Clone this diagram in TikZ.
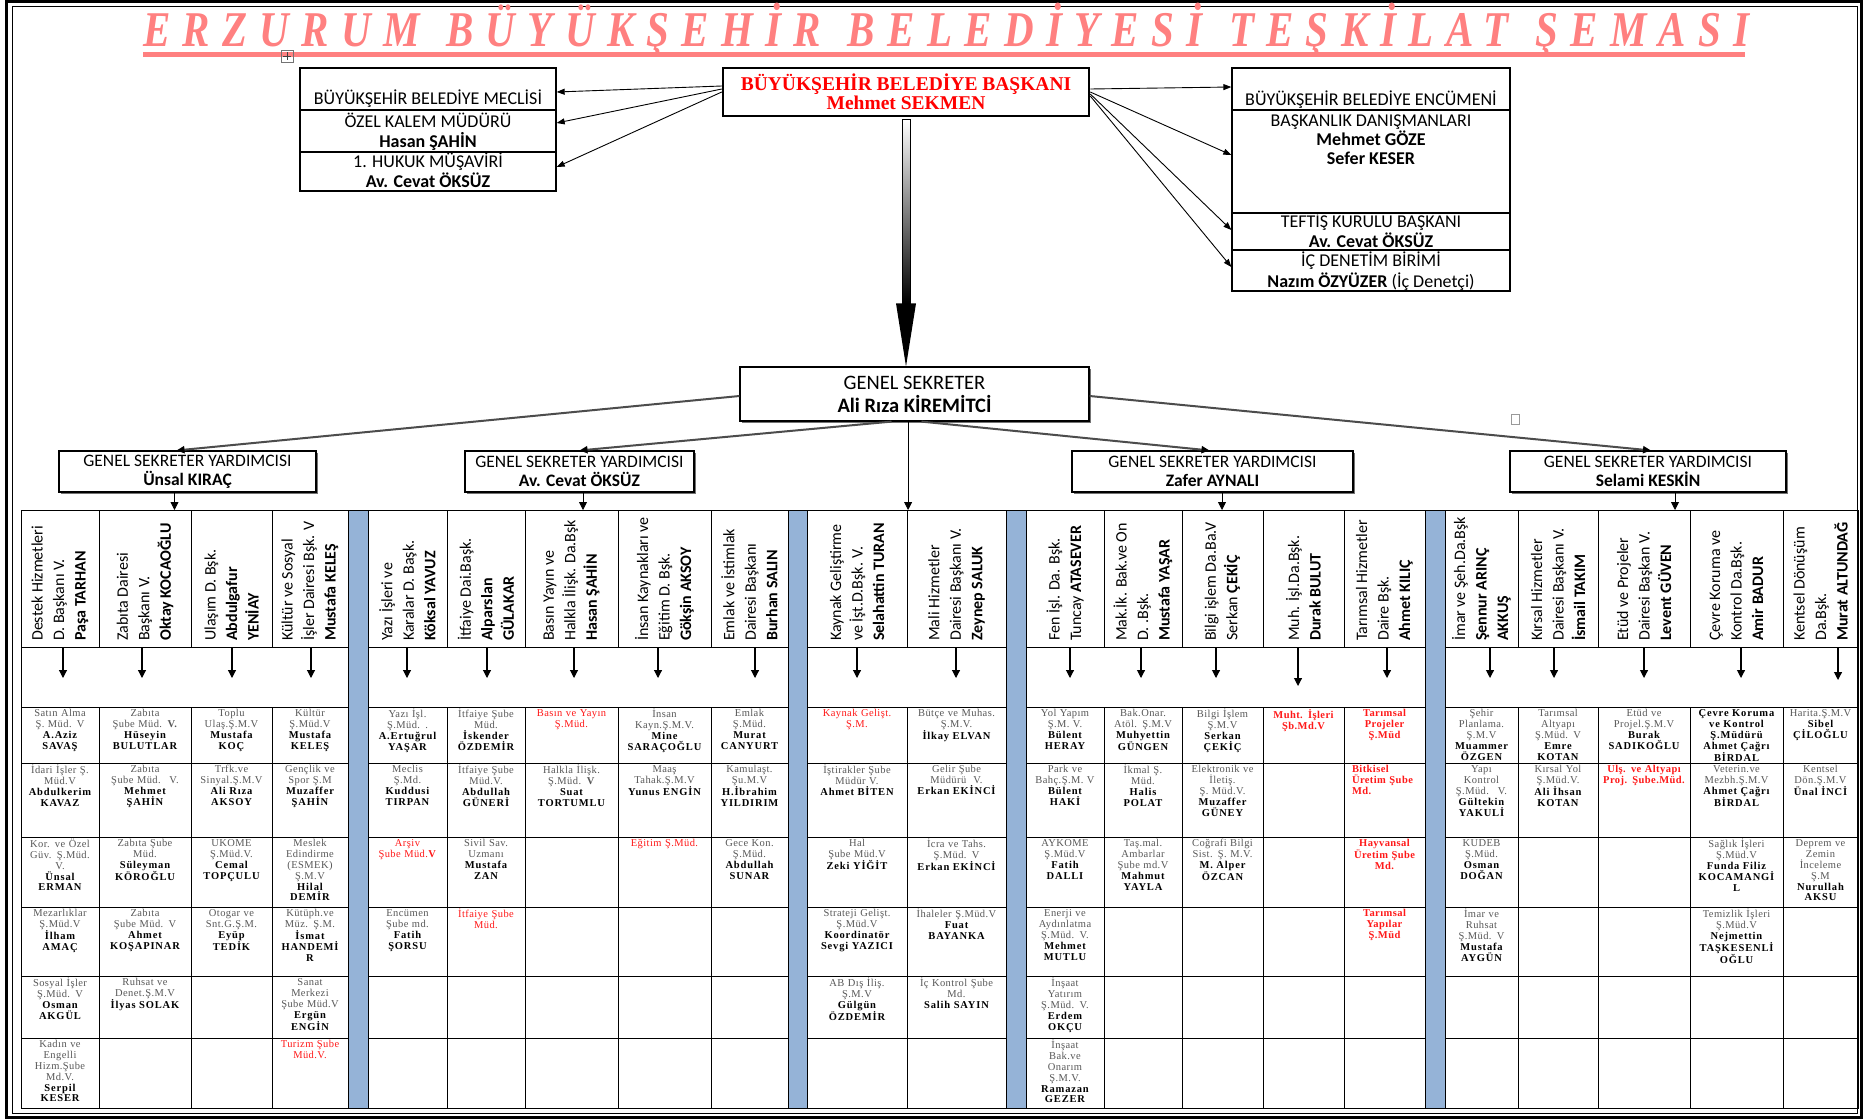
\documentclass[tikz,border=0pt]{standalone}
\usepackage{fontspec}
\usepackage{graphicx}
\setmainfont{Carlito}
\newfontfamily\sansf{Carlito}
\newfontfamily\cellf[LetterSpace=4]{Liberation Serif}
\newfontfamily\namef[LetterSpace=8]{Liberation Serif}
\newfontfamily\presf{Liberation Serif}
\newfontfamily\titlef[LetterSpace=30]{Liberation Serif}
\usetikzlibrary{arrows.meta,calc,shadows}
\definecolor{tpink}{RGB}{255,128,128}
\definecolor{barblue}{RGB}{149,179,215}
\definecolor{tgrey}{RGB}{88,88,88}
\definecolor{tred}{RGB}{255,25,25}
\newcommand\grT{\cellf\mdseries\color{tgrey}}
\newcommand\bkN{\namef\bfseries\color{black}}
\newcommand\rdT{\cellf\mdseries\color{tred}}
\newcommand\wgap{\hspace{0.65em}}
\foreach \i/\l/\r/\a/\b in {1/21/99/63/678,2/99/191/142/678,3/191/272/232/678,4/272/348/311/678,5/368/447/407/678,6/447/525/487/678,7/525/618/574/678,8/618/711/658/678,9/711/788/755/678,10/807/907/857/678,11/907/1006/956/678,12/1026/1104/1070/678,13/1104/1182/1141/678,14/1182/1263/1216/678,15/1263/1344/1298/686,16/1344/1425/1387/678,17/1445/1518/1490/678,18/1518/1598/1554/678,19/1598/1690/1644/678,20/1690/1783/1741/678,21/1783/1858/1838/680}{%
  \expandafter\xdef\csname cL\i\endcsname{\l}%
  \expandafter\xdef\csname cR\i\endcsname{\r}%
  \expandafter\xdef\csname cA\i\endcsname{\a}%
  \expandafter\xdef\csname cY\i\endcsname{\b}}
\foreach \j/\t/\b in {1/707/763,2/763/837,3/837/907,4/907/976,5/976/1038,6/1038/1108}{%
  \expandafter\xdef\csname rT\j\endcsname{\t}%
  \expandafter\xdef\csname rB\j\endcsname{\b}}
\newcommand\dtxt[4][]{%
  \edef\xL{\csname cL#2\endcsname}\edef\xR{\csname cR#2\endcsname}\edef\yT{\csname rT#3\endcsname}%
  \pgfmathsetmacro\ccx{(\xL+\xR)/2}%
  \pgfmathsetmacro\ccw{\xR-\xL-4}%
  \pgfmathsetmacro\ccy{\yT+2}%
  \node[celltxt,text width=\ccw pt,#1] (t#2-#3) at (\ccx,\ccy) {\rule{0pt}{7.6pt}#4};}
\newcommand\htxt[2]{%
  \edef\xL{\csname cL#1\endcsname}\edef\xR{\csname cR#1\endcsname}%
  \pgfmathsetmacro\ccx{(\xL+\xR)/2}%
  \node[hdrtxt] (ht#1) at (\ccx,641) {#2};}
\begin{document}
\begin{tikzpicture}[x=1pt,y=-1pt,
  arr/.style={-{Triangle[width=8pt,length=8pt]},line width=1.1pt},
  parr/.style={-{Triangle[width=6pt,length=8pt]},line width=0.9pt},
  gsarr/.style={-{Triangle[width=7pt,length=8pt,color=black]},line width=2pt,draw=black!70},
  grid/.style={draw=black,line width=1.1pt,inner sep=0pt,anchor=north west},
  celltxt/.style={anchor=north,align=center,inner sep=0pt,font=\fontsize{10.5}{10.8}\selectfont},
  hdrtxt/.style={rotate=90,anchor=west,align=left,inner sep=0pt,font=\sansf\fontsize{16}{21.5}\selectfont},
  rowbox/.style={draw=black,line width=1.3pt,inner sep=0pt},
  boxtxt/.style={anchor=base,inner sep=0pt,font=\sansf\fontsize{18}{20}\selectfont},
  gsybox/.style={draw=black,line width=1.1pt,fill=white,align=center,inner sep=0pt,minimum height=41pt,font=\sansf\fontsize{17.5}{19}\selectfont,drop shadow={shadow xshift=2pt,shadow yshift=-2pt,fill=black!55,opacity=1}}]
\useasboundingbox (0,0) rectangle (1863,1119);
\fill[white] (0,0) rectangle (1863,1119);
% frame
\draw[line width=3pt] (6.5,1.5) rectangle (1861.5,1117.5);
\draw[line width=0.8pt] (12,6) rectangle (1857,1113);
% title
\node[anchor=base west,inner sep=0pt,text=tpink] (title) at (143,46) {\resizebox{1606pt}{33pt}{\raisebox{0pt}[0.66em][0pt]{\titlef\bfseries\itshape ERZURUM\wgap BÜYÜKŞEHİR\wgap BELEDİYESİ\wgap TEŞKİLAT\wgap ŞEMASI}}};
\fill[tpink] (143,52) rectangle (1745,56.5);
% small handle icons
\draw[black!55,line width=0.6pt] (281,50) rectangle (293,62);
\draw[black!75,line width=0.5pt] (287,52) -- (287,60) (283,56) -- (291,56);
\draw[black!40,line width=0.6pt] (1511,414) rectangle (1519,424);
% president
\node[draw=black,line width=2.5pt,minimum width=366pt,minimum height=48pt,inner sep=0pt,align=center,font=\presf\bfseries\fontsize{19.5}{19}\selectfont,text=red] (pres) at (906,92) {BÜYÜKŞEHİR BELEDİYE BAŞKANI\\Mehmet SEKMEN};
% left group
\node[rowbox,minimum width=256pt,minimum height=42pt] (l1) at (428,89) {};
\node[rowbox,minimum width=256pt,minimum height=42pt] (l2) at (428,131) {};
\node[rowbox,minimum width=256pt,minimum height=39pt] (l3) at (428,171.5) {};
\node[boxtxt] (l1a) at (428,104.5) {BÜYÜKŞEHİR BELEDİYE MECLİSİ};
\node[boxtxt] (l2a) at (428,127.5) {ÖZEL KALEM MÜDÜRÜ};
\node[boxtxt] (l2b) at (428,147.5) {\textbf{Hasan ŞAHİN}};
\node[boxtxt] (l3a) at (428,167.5) {1. HUKUK MÜŞAVİRİ};
\node[boxtxt] (l3b) at (428,187.5) {\textbf{Av. Cevat ÖKSÜZ}};
% right group
\node[rowbox,minimum width=278pt,minimum height=42pt] (r1) at (1371,89) {};
\node[rowbox,minimum width=278pt,minimum height=103pt] (r2) at (1371,161.5) {};
\node[rowbox,minimum width=278pt,minimum height=37pt] (r3) at (1371,231.5) {};
\node[rowbox,minimum width=278pt,minimum height=41pt] (r4) at (1371,270.5) {};
\node[boxtxt] (r1a) at (1371,105.5) {BÜYÜKŞEHİR BELEDİYE ENCÜMENİ};
\node[boxtxt] (r2a) at (1371,126.5) {BAŞKANLIK DANIŞMANLARI};
\node[boxtxt] (r2b) at (1371,145.5) {\textbf{Mehmet GÖZE}};
\node[boxtxt] (r2c) at (1371,164.5) {\textbf{Sefer KESER}};
\node[boxtxt] (r3a) at (1371,227.5) {TEFTİŞ KURULU BAŞKANI};
\node[boxtxt] (r3b) at (1371,247.5) {\textbf{Av. Cevat ÖKSÜZ}};
\node[boxtxt] (r4a) at (1371,266.5) {İÇ DENETİM BİRİMİ};
\node[boxtxt] (r4b) at (1371,287.5) {\textbf{Nazım ÖZYÜZER} (İç Denetçi)};
% president arrows
\draw[parr] ($(pres.west)+(0,-6)$) -- ($(l1.east)+(0,3)$);
\draw[parr] ($(pres.west)+(0,-3)$) -- ($(l2.east)+(0,-8)$);
\draw[parr] (pres.west) -- ($(l3.east)+(0,-4.5)$);
\draw[parr] ($(pres.east)+(0,-3)$) -- ($(r1.west)+(0,-2)$);
\draw[parr] (pres.east) -- ($(r2.west)+(0,-6.5)$);
\draw[parr] ($(pres.east)+(0,2)$) -- ($(r3.west)+(0,-1.5)$);
\draw[parr] ($(pres.east)+(0,4)$) -- ($(r4.west)+(0,-3.5)$);
% general secretary
\node[draw=black,line width=1.2pt,fill=white,minimum width=349pt,minimum height=54pt,inner sep=0pt,align=center,font=\sansf\fontsize{20.5}{23}\selectfont,drop shadow={shadow xshift=2pt,shadow yshift=-2pt,fill=black!55,opacity=1}] (gs) at (914.5,394) {GENEL SEKRETER\\\textbf{Ali Rıza KİREMİTCİ}};
% thick arrow president -> GS
\coordinate (ptip) at (pres.south |- gs.north);
\shade[top color=white,bottom color=black,draw=black,line width=0.6pt] ($(pres.south)+(-4,2)$) rectangle ($(ptip)+(4,-63)$);
\fill[black] ($(ptip)+(-10,-63)$) -- ($(ptip)+(10,-63)$) -- (ptip) -- cycle;
% GSY boxes
\node[gsybox,minimum width=257pt] (gsy1) at (187.5,471.5) {GENEL SEKRETER YARDIMCISI\\\textbf{Ünsal KIRAÇ}};
\node[gsybox,minimum width=229pt] (gsy2) at (579.5,471.5) {GENEL SEKRETER YARDIMCISI\\\textbf{Av. Cevat ÖKSÜZ}};
\node[gsybox,minimum width=281pt] (gsy3) at (1212.5,471.5) {GENEL SEKRETER YARDIMCISI\\\textbf{Zafer AYNALI}};
\node[gsybox,minimum width=276pt] (gsy4) at (1648,471.5) {GENEL SEKRETER YARDIMCISI\\\textbf{Selami KESKİN}};
\draw[gsarr] ($(gs.west)+(0,2)$) -- ($(gsy1.north)+(-11,0)$);
\draw[gsarr] ($(gs.south)+(-23,0)$) -- (gsy2.north);
\draw[gsarr] ($(gs.south)+(7,0)$) -- ($(gsy3.north)+(-3,0)$);
\draw[gsarr] ($(gs.east)+(0,2)$) -- ($(gsy4.north)+(3,0)$);
% table
\node[grid,minimum width=1837pt,minimum height=598pt] (tbl) at (21,510) {};
\foreach \i in {1,...,21}{%
  \edef\xL{\csname cL\i\endcsname}\edef\xR{\csname cR\i\endcsname}%
  \pgfmathsetmacro\w{\xR-\xL}%
  \node[grid,minimum width=\w pt,minimum height=137pt] (hc\i) at (\xL,510) {};
  \foreach \j in {1,...,6}{%
    \edef\yT{\csname rT\j\endcsname}\edef\yB{\csname rB\j\endcsname}%
    \pgfmathsetmacro\h{\yB-\yT}%
    \node[grid,minimum width=\w pt,minimum height=\h pt] (d\i-\j) at (\xL,\yT) {};
  }
}
\foreach \l/\r in {348/368,788/807,1006/1026,1425/1445}{%
  \pgfmathsetmacro\w{\r-\l}%
  \node[grid,fill=barblue,minimum width=\w pt,minimum height=598pt] (bb\l) at (\l,510) {};
}
% arrows GS / GSY -> table
\draw[arr,line width=0.8pt] (gs.south -| hc10.north east) -- (hc10.north east);
\coordinate (g1b) at ($(gsy1.south)+(-13,0)$);
\coordinate (g2b) at ($(gsy2.south)+(3.5,0)$);
\coordinate (g3b) at ($(gsy3.south)+(9.5,0)$);
\coordinate (g4b) at ($(gsy4.south)+(27,0)$);
\foreach \g in {g1b,g2b,g3b,g4b}{\draw[arr,line width=0.8pt] (\g) -- (\g |- tbl.north);}
% band arrows
\foreach \i in {1,...,21}{%
  \edef\xA{\csname cA\i\endcsname}\edef\yA{\csname cY\i\endcsname}%
  \coordinate (ax\i) at (\xA,\yA);
  \draw[arr] (hc\i.south -| ax\i) -- (ax\i);
}
% headers
\htxt{1}{Destek Hizmetleri\\D. Başkanı V.\\\textbf{Paşa TARHAN}}
\htxt{2}{Zabıta Dairesi\\Başkanı V.\\\textbf{Oktay KOCAOĞLU}}
\htxt{3}{Ulaşım D. Bşk.\\\textbf{Abdulgafur}\\\textbf{YENİAY}}
\htxt{4}{Kültür ve Sosyal\\İşler Dairesi Bşk. V\\\textbf{Mustafa KELEŞ}}
\htxt{5}{Yazı İşleri ve\\Karalar D. Başk.\\\textbf{Köksal YAVUZ}}
\htxt{6}{İtfaiye Dai.Başk.\\\textbf{Alparslan}\\\textbf{GÜLAKAR}}
\htxt{7}{Basın Yayın ve\\Halkla İlişk. Da.Bşk\\\textbf{Hasan ŞAHİN}}
\htxt{8}{İnsan Kaynakları ve\\Eğitim D. Bşk.\\\textbf{Gökşin AKSOY}}
\htxt{9}{Emlak ve İstimlak\\Dairesi Başkanı\\\textbf{Burhan SALIN}}
\htxt{10}{Kaynak Geliştirme\\ve İşt.D.Bşk. V.\\\textbf{Selahattin TURAN}}
\htxt{11}{Mali Hizmetler\\Dairesi Başkanı V.\\\textbf{Zeynep SALUK}}
\htxt{12}{Fen İşl. Da. Bşk.\\Tuncay \textbf{ATASEVER}}
\htxt{13}{Mak.İk. Bak.ve On\\D. .Bşk.\\\textbf{Mustafa YAŞAR}}
\htxt{14}{Bilgi işlem Da.Ba.V\\Serkan \textbf{ÇEKİÇ}}
\htxt{15}{Muh. İşl.Da.Bşk.\\\textbf{Durak BULUT}}
\htxt{16}{Tarımsal Hizmetler\\Daire Bşk.\\\textbf{Ahmet KILIÇ}}
\htxt{17}{İmar ve Şeh.Da.Bşk\\\textbf{Şennur ARINÇ}\\\textbf{AKKUŞ}}
\htxt{18}{Kırsal Hizmetler\\Dairesi Başkanı V.\\\textbf{İsmail TAKIM}}
\htxt{19}{Etüd ve Projeler\\Dairesi Başkan V.\\\textbf{Levent GÜVEN}}
\htxt{20}{Çevre Koruma ve\\Kontrol Da.Bşk.\\\textbf{Amir BADUR}}
\htxt{21}{Kentsel Dönüşüm\\Da.Bşk.\\\textbf{Murat ALTUNDAĞ}}
% data cells
\dtxt{1}{1}{\grT Satın Alma\\Ş. Müd. V\\\bkN A.Aziz\\SAVAŞ}
\dtxt{1}{2}{\grT İdari İşler Ş.\\Müd.V\\\bkN Abdulkerim\\KAVAZ}
\dtxt{1}{3}{\grT Kor. ve Özel\\Güv. Ş.Müd.\\V.\\\bkN Ünsal\\ERMAN}
\dtxt{1}{4}{\grT Mezarlıklar\\Ş.Müd.V\\\bkN İlham\\AMAÇ}
\dtxt{1}{5}{\grT Sosyal İşler\\Ş.Müd. V\\\bkN Osman\\AKGÜL}
\dtxt{1}{6}{\grT Kadın ve\\Engelli\\Hizm.Şube\\Md.V.\\\bkN Serpil\\KESER}
\dtxt{2}{1}{\grT Zabıta\\Şube Müd. \textbf{V.}\\\bkN Hüseyin\\BULUTLAR}
\dtxt{2}{2}{\grT Zabıta\\Şube Müd.~ V.\\\bkN Mehmet\\ŞAHİN}
\dtxt{2}{3}{\grT Zabıta Şube\\Müd.\\\bkN Süleyman\\KÖROĞLU}
\dtxt{2}{4}{\grT Zabıta\\Şube Müd. V\\\bkN Ahmet\\KOŞAPINAR}
\dtxt{2}{5}{\grT Ruhsat ve\\Denet.Ş.M.V\\\bkN İlyas SOLAK}
\dtxt{3}{1}{\grT Toplu\\Ulaş.Ş.M.V\\\bkN Mustafa\\KOÇ}
\dtxt{3}{2}{\grT Trfk.ve\\Sinyal.Ş.M.V\\\bkN Ali Rıza\\AKSOY}
\dtxt{3}{3}{\grT UKOME\\Ş.Müd.V.\\\bkN Cemal\\TOPÇULU}
\dtxt{3}{4}{\grT Otogar ve\\Snt.G.Ş.M.\\\bkN Eyüp\\TEDİK}
\dtxt{4}{1}{\grT Kültür\\Ş.Müd.V\\\bkN Mustafa\\KELEŞ}
\dtxt{4}{2}{\grT Gençlik ve\\Spor Ş.M\\\bkN Muzaffer\\ŞAHİN}
\dtxt{4}{3}{\grT Meslek\\Edindirme\\(ESMEK)\\Ş.M.V\\\bkN Hilal\\DEMİR}
\dtxt{4}{4}{\grT Kütüph.ve\\Müz. Ş.M.\\\bkN İsmat\\HANDEMİ\\R}
\dtxt{4}{5}{\grT Sanat\\Merkezi\\Şube Müd.V\\\bkN Ergün\\ENGİN}
\dtxt{4}{6}{\rdT Turizm Şube\\Müd.V.}
\dtxt{5}{1}{\grT Yazı İşl.\\Ş.Müd. .\\\bkN A.Ertuğrul\\YAŞAR}
\dtxt{5}{2}{\grT Meclis\\Ş.Md.\\\bkN Kuddusi\\TIRPAN}
\dtxt{5}{3}{\rdT Arşiv\\Şube Müd.\textbf{V}}
\dtxt{5}{4}{\grT Encümen\\Şube md.\\\bkN Fatih\\ŞORSU}
\dtxt{6}{1}{\grT İtfaiye Şube\\Müd.\\\bkN İskender\\ÖZDEMİR}
\dtxt{6}{2}{\grT İtfaiye Şube\\Müd.V.\\\bkN Abdullah\\GÜNERİ}
\dtxt{6}{3}{\grT Sivil Sav.\\Uzmanı\\\bkN Mustafa\\ZAN}
\dtxt{6}{4}{\rdT İtfaiye Şube\\Müd.}
\dtxt{7}{1}{\rdT Basın ve Yayın\\Ş.Müd.}
\dtxt{7}{2}{\grT Halkla İlişk.\\Ş.Müd. \textbf{V}\\\bkN Suat\\TORTUMLU}
\dtxt{8}{1}{\grT İnsan\\Kayn.Ş.M.V.\\\bkN Mine\\SARAÇOĞLU}
\dtxt{8}{2}{\grT Maaş\\Tahak.Ş.M.V\\\bkN Yunus ENGİN}
\dtxt{8}{3}{\rdT Eğitim Ş.Müd.}
\dtxt{9}{1}{\grT Emlak\\Ş.Müd.\\\bkN Murat\\CANYURT}
\dtxt{9}{2}{\grT Kamulaşt.\\Şu.M.V\\\bkN H.İbrahim\\YILDIRIM}
\dtxt{9}{3}{\grT Gece Kon.\\Ş.Müd.\\\bkN Abdullah\\SUNAR}
\dtxt{10}{1}{\rdT Kaynak Gelişt.\\Ş.M.}
\dtxt{10}{2}{\grT İştirakler Şube\\Müdür V.\\\bkN Ahmet BİTEN}
\dtxt{10}{3}{\grT Hal\\Şube Müd.V\\\bkN Zeki YİĞİT}
\dtxt{10}{4}{\grT Strateji Gelişt.\\Ş.Müd.V\\\bkN Koordinatör\\Sevgi YAZICI}
\dtxt{10}{5}{\grT AB Dış İliş.\\Ş.M.V\\\bkN Gülgün\\ÖZDEMİR}
\dtxt{11}{1}{\grT Bütçe ve Muhas.\\Ş.M.V.\\\bkN İlkay ELVAN}
\dtxt{11}{2}{\grT Gelir Şube\\Müdürü~ V.\\\bkN Erkan EKİNCİ}
\dtxt{11}{3}{\grT İcra ve Tahs.\\Ş.Müd. V\\\bkN Erkan EKİNCİ}
\dtxt{11}{4}{\grT İhaleler Ş.Müd.V\\\bkN Fuat\\BAYANKA}
\dtxt{11}{5}{\grT İç Kontrol Şube\\Md.\\\bkN Salih SAYIN}
\dtxt{12}{1}{\grT Yol Yapım\\Ş.M. V.\\\bkN Bülent\\HERAY}
\dtxt{12}{2}{\grT Park ve\\Bahç.Ş.M. V\\\bkN Bülent\\HAKİ}
\dtxt{12}{3}{\grT AYKOME\\Ş.Müd.V\\\bkN Fatih\\DALLI}
\dtxt{12}{4}{\grT Enerji ve\\Aydınlatma\\Ş.Müd. V.\\\bkN Mehmet\\MUTLU}
\dtxt{12}{5}{\grT İnşaat\\Yatırım\\Ş.Müd. V.\\\bkN Erdem\\OKÇU}
\dtxt{12}{6}{\grT İnşaat\\Bak.ve\\Onarım\\Ş.M.V.\\\bkN Ramazan\\GEZER}
\dtxt{13}{1}{\grT Bak.Onar.\\Atöl. Ş.M.V\\\bkN Muhyettin\\GÜNGEN}
\dtxt{13}{2}{\grT İkmal Ş.\\Müd.\\\bkN Halis\\POLAT}
\dtxt{13}{3}{\grT Taş.mal.\\Ambarlar\\Şube md.V\\\bkN Mahmut\\YAYLA}
\dtxt{14}{1}{\grT Bilgi İşlem\\Ş.M.V\\\bkN Serkan\\ÇEKİÇ}
\dtxt{14}{2}{\grT Elektronik ve\\İletiş.\\Ş. Müd.V.\\\bkN Muzaffer\\GÜNEY}
\dtxt{14}{3}{\grT Coğrafi Bilgi\\Sist. Ş. M.V.\\\bkN M. Alper\\ÖZCAN}
\dtxt{15}{1}{\rdT\bfseries Muht. İşleri\\Şb.Md.V}
\dtxt{16}{1}{\rdT\bfseries Tarımsal\\Projeler\\Ş.Müd}
\dtxt[align=left,xshift=6pt]{16}{2}{\rdT\bfseries Bitkisel\\Üretim Şube\\Md.}
\dtxt{16}{3}{\rdT\bfseries Hayvansal\\Üretim Şube\\Md.}
\dtxt{16}{4}{\rdT\bfseries Tarımsal\\Yapılar\\Ş.Müd}
\dtxt{17}{1}{\grT Şehir\\Planlama.\\Ş.M.V\\\bkN Muammer\\ÖZGEN}
\dtxt{17}{2}{\grT Yapı\\Kontrol\\Ş.Müd.~ V.\\\bkN Gültekin\\YAKULİ}
\dtxt{17}{3}{\grT KUDEB\\Ş.Müd.\\\bkN Osman\\DOĞAN}
\dtxt{17}{4}{\grT İmar ve\\Ruhsat\\Ş.Müd. V\\\bkN Mustafa\\AYGÜN}
\dtxt{18}{1}{\grT Tarımsal\\Altyapı\\Ş.Müd. V\\\bkN Emre\\KOTAN}
\dtxt{18}{2}{\grT Kırsal Yol\\Ş.Müd.V.\\\bkN Ali İhsan\\KOTAN}
\dtxt{19}{1}{\grT Etüd ve\\Projel.Ş.M.V\\\bkN Burak\\SADIKOĞLU}
\dtxt{19}{2}{\rdT\bfseries Ulş. ve Altyapı\\Proj. Şube.Müd.}
\dtxt{20}{1}{\bkN Çevre Koruma\\ve Kontrol\\Ş.Müdürü\\Ahmet Çağrı\\BİRDAL}
\dtxt{20}{2}{\grT Veterin.ve\\Mezbh.Ş.M.V\\\bkN Ahmet Çağrı\\BİRDAL}
\dtxt{20}{3}{\grT Sağlık İşleri\\Ş.Müd.V\\\bkN Funda Filiz\\KOCAMANGİ\\L}
\dtxt{20}{4}{\grT Temizlik İşleri\\Ş.Müd.V\\\bkN Nejmettin\\TAŞKESENLİ\\OĞLU}
\dtxt{21}{1}{\grT Harita.Ş.M.V\\\bkN Sibel\\ÇİLOĞLU}
\dtxt{21}{2}{\grT Kentsel\\Dön.Ş.M.V\\\bkN Ünal İNCİ}
\dtxt{21}{3}{\grT Deprem ve\\Zemin\\İnceleme\\Ş.M\\\bkN Nurullah\\AKSU}
\end{tikzpicture}
\end{document}
